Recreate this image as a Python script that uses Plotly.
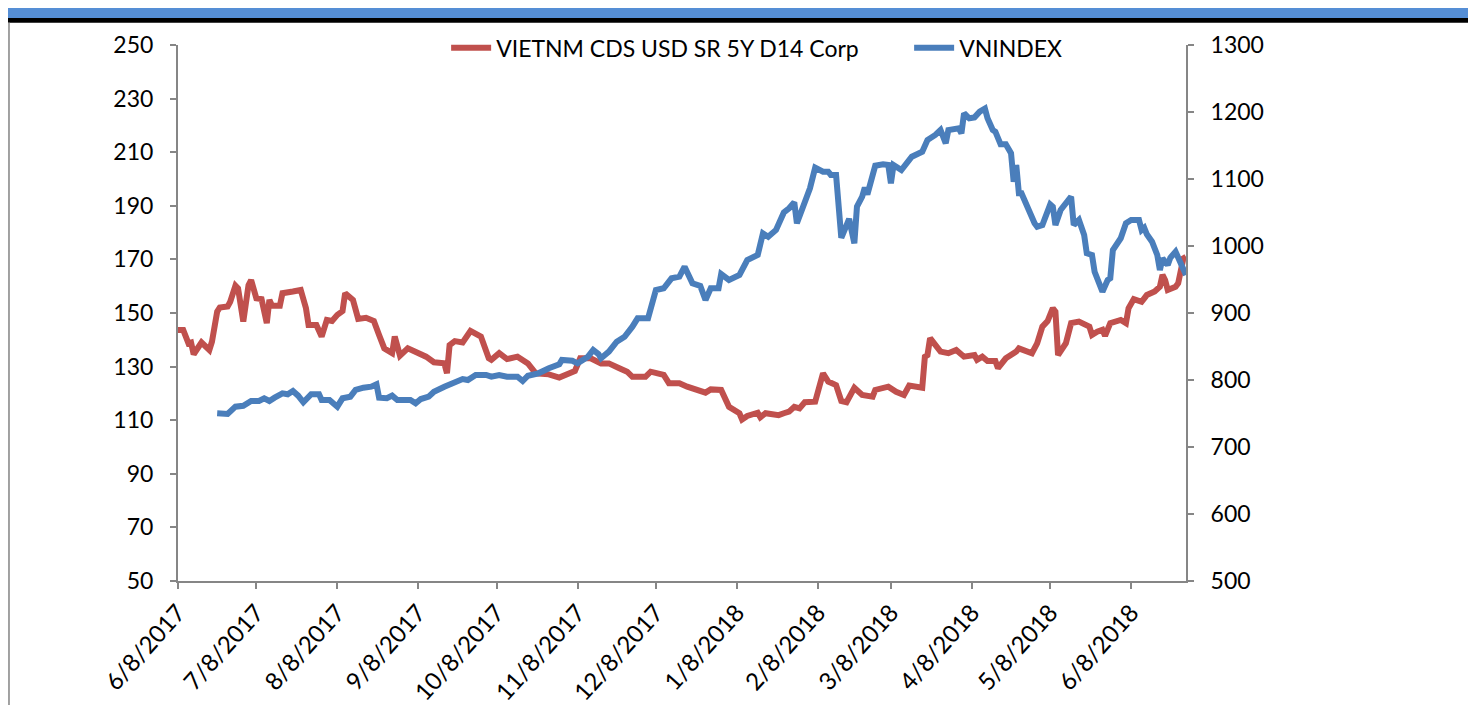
import plotly.graph_objects as go

# ---- data ----
cds_dates = [
    "2017-06-08","2017-06-10","2017-06-12","2017-06-13","2017-06-14","2017-06-17","2017-06-20","2017-06-21",
    "2017-06-23","2017-06-24","2017-06-27","2017-06-28","2017-06-30","2017-07-01","2017-07-03","2017-07-05",
    "2017-07-06","2017-07-08","2017-07-10","2017-07-12","2017-07-13","2017-07-14","2017-07-17","2017-07-18",
    "2017-07-22","2017-07-25","2017-07-27","2017-07-28","2017-07-31","2017-08-02","2017-08-04","2017-08-06",
    "2017-08-08","2017-08-10","2017-08-11","2017-08-14","2017-08-16","2017-08-19","2017-08-22","2017-08-23",
    "2017-08-24","2017-08-26","2017-08-29","2017-08-30","2017-08-31","2017-09-01","2017-09-04","2017-09-08",
    "2017-09-11","2017-09-14","2017-09-18","2017-09-19","2017-09-20","2017-09-22","2017-09-25","2017-09-28",
    "2017-10-02","2017-10-05","2017-10-06","2017-10-09","2017-10-12","2017-10-16","2017-10-20","2017-10-23",
    "2017-10-28","2017-11-01","2017-11-04","2017-11-07","2017-11-09","2017-11-13","2017-11-17","2017-11-20",
    "2017-11-24","2017-11-27","2017-11-29","2017-12-04","2017-12-06","2017-12-11","2017-12-13","2017-12-17",
    "2017-12-20","2017-12-23","2017-12-27","2017-12-29","2018-01-02","2018-01-05","2018-01-09","2018-01-10",
    "2018-01-12","2018-01-16","2018-01-17","2018-01-19","2018-01-24","2018-01-26","2018-01-28","2018-01-30",
    "2018-02-01","2018-02-03","2018-02-07","2018-02-10","2018-02-12","2018-02-15","2018-02-17","2018-02-19",
    "2018-02-22","2018-02-25","2018-03-01","2018-03-02","2018-03-07","2018-03-10","2018-03-13","2018-03-15",
    "2018-03-20","2018-03-21","2018-03-22","2018-03-23","2018-03-27","2018-03-30","2018-04-02","2018-04-05",
    "2018-04-09","2018-04-10","2018-04-12","2018-04-14","2018-04-17","2018-04-18","2018-04-21","2018-04-25",
    "2018-04-26","2018-05-01","2018-05-03","2018-05-05","2018-05-07","2018-05-09","2018-05-10","2018-05-11",
    "2018-05-14","2018-05-16","2018-05-19","2018-05-23","2018-05-24","2018-05-26","2018-05-28","2018-05-29",
    "2018-05-31","2018-06-04","2018-06-06","2018-06-07","2018-06-09","2018-06-12","2018-06-14","2018-06-17",
    "2018-06-19","2018-06-20","2018-06-21","2018-06-22","2018-06-25","2018-06-26","2018-06-28","2018-06-29",
]
cds_values = [
    143.7,143.7,138.7,139.0,134.6,139.0,136.2,139.3,
    150.5,152.0,152.4,154.2,160.2,159.2,146.8,160.4,
    162.3,155.5,155.2,146.2,154.9,152.7,152.7,157.4,
    158.0,158.6,151.8,145.5,145.5,141.2,147.4,147.0,
    149.3,150.7,157.4,154.9,147.8,148.2,147.0,143.7,
    141.8,136.8,135.0,141.2,136.8,134.1,136.8,135.3,
    133.7,131.6,131.2,127.5,138.0,139.5,139.0,143.3,
    141.2,133.1,132.5,135.0,132.8,133.7,131.2,127.5,
    127.1,125.9,127.1,128.4,133.1,133.1,131.2,131.2,
    129.4,128.1,126.2,126.2,128.1,126.9,123.8,123.8,
    122.5,121.3,120.3,121.5,121.3,115.0,112.6,110.3,
    111.6,112.8,111.1,112.6,111.9,112.6,113.2,115.0,
    114.4,116.7,116.9,127.5,124.4,123.1,117.2,116.7,
    122.1,119.4,118.8,121.3,122.5,120.6,119.4,122.9,
    122.1,133.7,134.3,140.6,135.6,135.0,136.2,133.7,
    134.3,132.5,133.7,132.1,132.1,129.4,133.1,135.6,
    136.8,135.0,138.7,144.9,147.0,151.8,150.5,134.3,
    138.7,146.2,146.8,144.9,141.8,143.0,143.7,141.5,
    146.2,147.4,146.2,151.8,155.2,154.2,156.7,158.0,
    159.8,164.2,162.3,158.6,159.8,161.1,170.4,171.0,
]

vn_dates = [
    "2017-06-23","2017-06-27","2017-06-30","2017-07-03","2017-07-06","2017-07-09","2017-07-11","2017-07-13",
    "2017-07-15","2017-07-18","2017-07-20","2017-07-22","2017-07-24","2017-07-26","2017-07-29","2017-08-01",
    "2017-08-02","2017-08-05","2017-08-08","2017-08-10","2017-08-13","2017-08-15","2017-08-18","2017-08-21",
    "2017-08-23","2017-08-24","2017-08-27","2017-08-29","2017-08-31","2017-09-03","2017-09-05","2017-09-07",
    "2017-09-09","2017-09-12","2017-09-14","2017-09-18","2017-09-22","2017-09-25","2017-09-27","2017-09-30",
    "2017-10-04","2017-10-06","2017-10-09","2017-10-12","2017-10-16","2017-10-18","2017-10-20","2017-10-24",
    "2017-10-28","2017-11-01","2017-11-02","2017-11-06","2017-11-08","2017-11-11","2017-11-12","2017-11-14",
    "2017-11-16","2017-11-17","2017-11-20","2017-11-23","2017-11-26","2017-11-29","2017-12-01","2017-12-05",
    "2017-12-08","2017-12-11","2017-12-14","2017-12-17","2017-12-19","2017-12-22","2017-12-25","2017-12-27",
    "2017-12-28","2017-12-29","2018-01-01","2018-01-02","2018-01-05","2018-01-09","2018-01-12","2018-01-16",
    "2018-01-18","2018-01-20","2018-01-23","2018-01-25","2018-01-26","2018-01-28","2018-01-30","2018-01-31",
    "2018-02-02","2018-02-05","2018-02-07","2018-02-10","2018-02-12","2018-02-13","2018-02-15","2018-02-17",
    "2018-02-18","2018-02-20","2018-02-22","2018-02-23","2018-02-25","2018-02-26","2018-02-27","2018-03-01",
    "2018-03-02","2018-03-05","2018-03-07","2018-03-08","2018-03-09","2018-03-12","2018-03-14","2018-03-16",
    "2018-03-20","2018-03-22","2018-03-25","2018-03-27","2018-03-29","2018-03-30","2018-04-03","2018-04-04",
    "2018-04-05","2018-04-07","2018-04-09","2018-04-11","2018-04-13","2018-04-14","2018-04-16","2018-04-17",
    "2018-04-19","2018-04-21","2018-04-23","2018-04-24","2018-04-25","2018-04-26","2018-04-27","2018-04-30",
    "2018-05-02","2018-05-03","2018-05-05","2018-05-08","2018-05-09","2018-05-10","2018-05-12","2018-05-16",
    "2018-05-17","2018-05-19","2018-05-21","2018-05-22","2018-05-24","2018-05-25","2018-05-28","2018-05-30",
    "2018-05-31","2018-06-01","2018-06-04","2018-06-06","2018-06-08","2018-06-11","2018-06-12","2018-06-13",
    "2018-06-14","2018-06-16","2018-06-18","2018-06-19","2018-06-20","2018-06-22","2018-06-23","2018-06-25",
    "2018-06-27","2018-06-29",
]
vn_values = [
    750.3,749.3,760.2,761.6,768.7,768.7,772.7,768.7,
    773.6,780.0,778.7,783.6,776.6,766.7,778.7,778.7,
    770.1,770.1,760.2,772.7,775.1,785.1,788.5,790.0,
    793.6,773.6,772.7,776.6,770.1,770.1,770.1,765.2,
    771.6,775.1,782.5,790.0,797.5,801.5,800.0,807.5,
    807.5,804.9,807.5,804.9,804.9,798.5,806.4,810.0,
    817.5,823.4,829.9,828.8,824.9,833.3,834.8,844.8,
    838.8,832.4,842.3,857.2,864.6,879.6,892.1,892.1,
    934.3,936.9,951.8,954.2,969.1,944.3,940.3,919.4,
    931.8,936.9,936.9,958.2,949.3,956.7,979.1,986.6,
    1018.9,1013.9,1023.9,1043.7,1050.0,1056.3,1065.2,1033.9,
    1056.3,1086.1,1116.9,1110.9,1110.9,1106.0,1106.0,1012.4,
    1021.4,1040.3,1004.0,1058.7,1073.6,1087.0,1077.1,1106.0,
    1119.9,1121.9,1120.9,1093.6,1120.9,1113.4,1123.4,1133.3,
    1140.8,1158.2,1165.7,1173.1,1153.3,1173.1,1175.7,1168.2,
    1198.1,1190.6,1192.0,1200.4,1205.0,1190.6,1173.1,1170.6,
    1151.8,1151.8,1138.4,1096.0,1120.9,1078.7,1078.7,1050.3,
    1033.9,1028.8,1031.3,1062.2,1058.7,1031.3,1053.7,1073.6,
    1031.3,1038.8,1016.4,989.1,986.6,961.6,931.8,949.3,
    951.8,994.0,1011.5,1033.9,1038.8,1038.8,1023.9,1027.3,
    1017.4,1006.4,986.6,964.2,981.6,971.6,982.5,991.5,
    971.6,956.7,
]

tick_dates = ["2017-06-08","2017-07-08","2017-08-08","2017-09-08","2017-10-08","2017-11-08",
              "2017-12-08","2018-01-08","2018-02-08","2018-03-08","2018-04-08","2018-05-08","2018-06-08"]
tick_labels = ["6/8/2017","7/8/2017","8/8/2017","9/8/2017","10/8/2017","11/8/2017",
               "12/8/2017","1/8/2018","2/8/2018","3/8/2018","4/8/2018","5/8/2018","6/8/2018"]

series_names = ["VIETNM CDS USD SR 5Y D14 Corp", "VNINDEX"]

RED = "#C0504D"
BLUE = "#4A7EBB"
AX = "#868686"
FONT = "Lato, Open Sans, sans-serif"
FS = 23

fig = go.Figure()
fig.add_trace(go.Scatter(x=cds_dates, y=cds_values, name=series_names[0], mode="lines",
                         line=dict(color=RED, width=6), yaxis="y"))
fig.add_trace(go.Scatter(x=vn_dates, y=vn_values, name=series_names[1], mode="lines",
                         line=dict(color=BLUE, width=6), yaxis="y2"))

axis_common = dict(showgrid=False, zeroline=False, showline=True, linecolor=AX, linewidth=2,
                   ticks="outside", ticklen=6, tickcolor=AX, tickwidth=1.5,
                   automargin=False)

# the page body has an 8px default margin, so the figure is 8px smaller and offset
fig.update_layout(
    width=1468, height=697,
    margin=dict(l=170, r=290, t=37, b=124, autoexpand=False),
    paper_bgcolor="white", plot_bgcolor="white",
    font=dict(family=FONT, size=FS, color="black"),
    showlegend=True,
    legend=dict(orientation="h", x=0.266, y=1.035, xanchor="left", yanchor="top",
                font=dict(size=23), bgcolor="rgba(0,0,0,0)", entrywidth=408,
                itemwidth=40, tracegroupgap=0),
    xaxis=dict(type="date", range=["2017-06-08", "2018-06-29"],
               tickvals=tick_dates, ticktext=tick_labels, tickangle=-48,
               tickfont=dict(size=24), **axis_common),
    yaxis=dict(range=[50, 250], dtick=20, tick0=50, ticklabelstandoff=12,
               tickfont=dict(size=23), **axis_common),
    yaxis2=dict(range=[500, 1300], dtick=100, tick0=500, overlaying="y", side="right",
                ticklabelstandoff=12, tickfont=dict(size=23), **axis_common),
    shapes=[
        # cropped title band at the very top
        dict(type="rect", xref="paper", yref="paper", x0=-0.2, x1=1.3, y0=1.0504, y1=1.2,
             fillcolor="#558ED5", line=dict(width=0), layer="below"),
        dict(type="rect", xref="paper", yref="paper", x0=-0.2, x1=1.3, y0=1.0415, y1=1.0504,
             fillcolor="black", line=dict(width=0), layer="below"),
        # left frame edge
        dict(type="line", xref="paper", yref="paper", x0=-0.1677, x1=-0.1677, y0=-0.25, y1=1.0415,
             line=dict(color="#A0A0A0", width=2)),
    ],
)

fig.write_html("out.html")
